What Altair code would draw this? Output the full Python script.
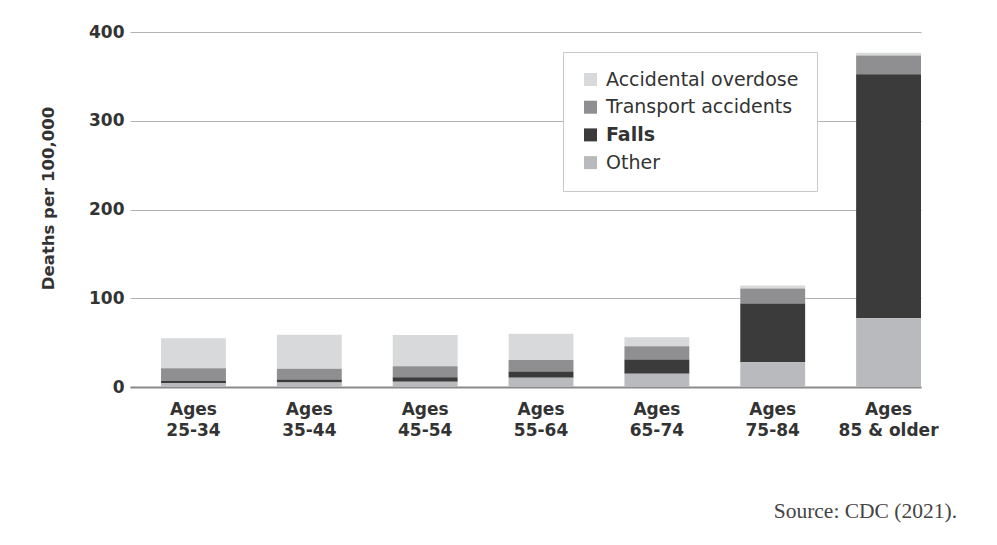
import altair as alt
import pandas as pd

ages = ["Ages 25-34", "Ages 35-44", "Ages 45-54", "Ages 55-64",
        "Ages 65-74", "Ages 75-84", "Ages 85 & older"]
causes = ["Accidental overdose", "Transport accidents", "Falls", "Other"]
colors = ["#d8d9db", "#8f8f91", "#3b3b3b", "#b9babd"]

overdose = [34, 38.5, 35, 29.5, 10, 3.5, 3]
transport = [14, 12, 12.5, 13, 15, 17, 21]
falls = [2.5, 3.5, 5, 7, 16, 66, 275]
other = [4.5, 5, 6, 10.5, 15, 28, 77.5]

series = {"Accidental overdose": overdose, "Transport accidents": transport,
          "Falls": falls, "Other": other}
stack_order = {"Other": 0, "Falls": 1, "Transport accidents": 2, "Accidental overdose": 3}

rows = []
for cause, vals in series.items():
    for a, v in zip(ages, vals):
        rows.append({"age": a, "cause": cause, "value": v, "ord": stack_order[cause]})
df = pd.DataFrame(rows)

FONT = "DejaVu Sans"
TXT = "#333333"

chart = alt.Chart(df).mark_bar().encode(
    x=alt.X("age:N", sort=ages, title=None,
            scale=alt.Scale(paddingInner=0.44, paddingOuter=0.134, align=1),
            axis=alt.Axis(labelAngle=0, ticks=False, domain=True, grid=False,
                          domainColor="#8a8a8a", domainWidth=2,
                          labelExpr="['Ages', substring(datum.label, 5)]",
                          labelFont=FONT, labelFontSize=17, labelFontWeight="bold",
                          labelColor=TXT, labelPadding=14, labelLineHeight=21)),
    y=alt.Y("value:Q", stack="zero", title="Deaths per 100,000",
            scale=alt.Scale(domain=[0, 400]),
            axis=alt.Axis(values=[0, 100, 200, 300, 400], ticks=False, domain=False,
                          grid=True, gridColor="#b3b3b3", gridWidth=1.2,
                          labelFont=FONT, labelFontSize=17, labelFontWeight="bold",
                          labelColor=TXT, labelPadding=6,
                          titleFont=FONT, titleFontSize=16.5, titleFontWeight="bold",
                          titleColor=TXT, titleAngle=270, titleX=-74, titleY=166)),
    color=alt.Color("cause:N", scale=alt.Scale(domain=causes, range=colors),
                    legend=alt.Legend(title=None, orient="none", legendX=433, legendY=20,
                                      fillColor="white", strokeColor="#c8c8c8",
                                      padding=18, rowPadding=7.7,
                                      symbolType="square", symbolSize=169,
                                      symbolStrokeWidth=0, labelOffset=6,
                                      labelFont=FONT, labelFontSize=19, labelLimit=400,
                                      labelColor=TXT,
                                      labelFontWeight=alt.ExprRef("datum.label == 'Falls' ? 'bold' : 'normal'"))),
    order=alt.Order("ord:Q", sort="ascending"),
).properties(
    width=791, height=355,
    padding={"left": 122, "top": 24, "right": 67, "bottom": 150},
    autosize=alt.AutoSizeParams(type="none"),
    background="white",
    title=alt.TitleParams("Source: CDC (2021).", orient="bottom", anchor="end",
                          font="Liberation Serif", fontSize=21.5, fontWeight="normal",
                          color="#444444", dx=19, offset=63),
).configure_view(stroke=None)

chart.save("out.html", embed_options={"renderer": "svg", "actions": False})
